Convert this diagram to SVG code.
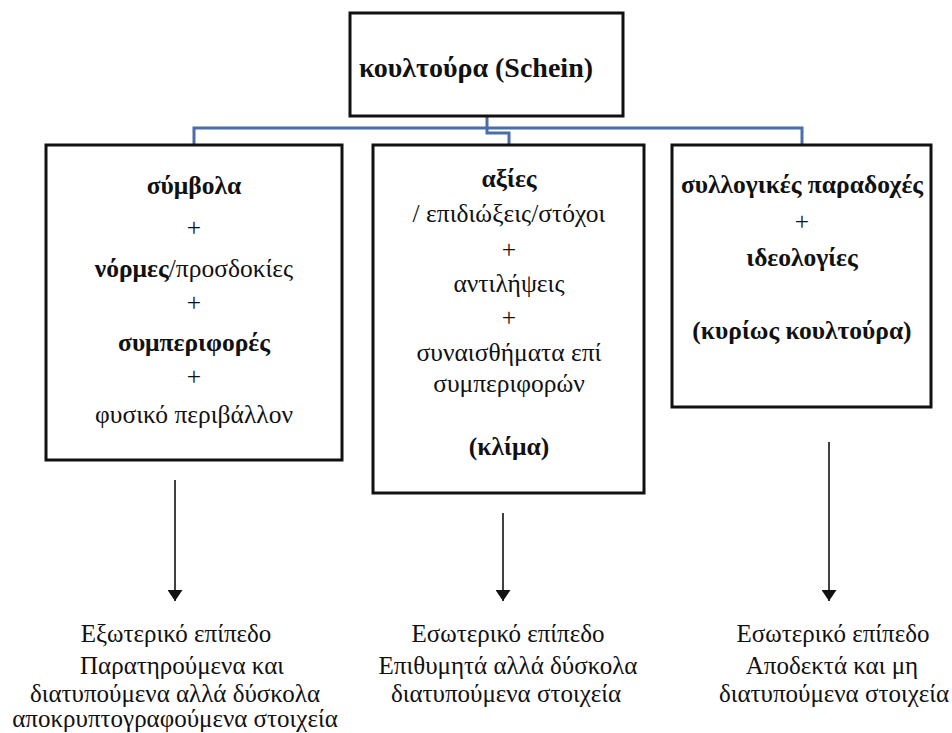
<svg xmlns="http://www.w3.org/2000/svg" width="952" height="733" viewBox="0 0 952 733" font-family="'Liberation Serif', 'Times New Roman', 'DejaVu Serif', serif">
  <style>
    .box { fill: #ffffff; stroke: #111111; stroke-width: 3; }
    .link { fill: none; stroke: #4a6fa8; stroke-width: 3; }
    .arrow { fill: none; stroke: #111111; stroke-width: 1.6; }
    text { font-family: "Liberation Serif", "Times New Roman", "DejaVu Serif", serif; font-size: 25.5px; fill: #111111; text-anchor: middle; }
    .b { font-weight: bold; }
    .title { font-size: 28px; }
    .lvl { font-size: 25px; }
  </style>
  <defs>
    <marker id="head" viewBox="0 0 11 15" refX="11" refY="7.5" markerWidth="11" markerHeight="15" markerUnits="userSpaceOnUse" orient="auto">
      <path d="M0,0 L11,7.5 L0,15 Z" fill="#111111"/>
    </marker>
  </defs>
  <rect width="952" height="733" fill="#ffffff"/>

  <!-- tree connectors -->
  <g id="connectors">
    <path class="link" d="M194,145 V128 H802 V145"/>
    <path class="link" d="M487,116 V133 H509 V145"/>
    <line class="arrow" x1="175" y1="480" x2="175" y2="601" marker-end="url(#head)"/>
    <line class="arrow" x1="503" y1="513" x2="503" y2="601" marker-end="url(#head)"/>
    <line class="arrow" x1="829" y1="442" x2="829" y2="601" marker-end="url(#head)"/>
  </g>

  <g id="root">
    <rect class="box" x="350" y="13" width="273" height="103"/>
    <text class="b title" x="476" y="77">κουλτούρα (Schein)</text>
  </g>

  <g id="external">
    <rect class="box" x="46" y="145" width="296" height="315"/>
    <text class="b" x="194" y="194">σύμβολα</text>
    <text x="194" y="236">+</text>
    <text x="194" y="277"><tspan class="b">νόρμες</tspan>/προσδοκίες</text>
    <text x="194" y="311">+</text>
    <text class="b" x="194" y="351">συμπεριφορές</text>
    <text x="194" y="385">+</text>
    <text x="194" y="423">φυσικό περιβάλλον</text>
  </g>

  <g id="climate">
    <rect class="box" x="373" y="145" width="271" height="348"/>
    <text class="b" x="509" y="187">αξίες</text>
    <text x="509" y="222">/ επιδιώξεις/στόχοι</text>
    <text x="509" y="258">+</text>
    <text x="509" y="292">αντιλήψεις</text>
    <text x="509" y="326">+</text>
    <text x="509" y="361">συναισθήματα επί</text>
    <text x="509" y="392">συμπεριφορών</text>
    <text class="b" x="509" y="455">(κλίμα)</text>
  </g>

  <g id="assumptions">
    <rect class="box" x="672" y="145" width="259" height="262"/>
    <text class="b" x="802" y="193">συλλογικές παραδοχές</text>
    <text x="802" y="230">+</text>
    <text class="b" x="802" y="266">ιδεολογίες</text>
    <text class="b" x="802" y="339">(κυρίως κουλτούρα)</text>
  </g>

  <g id="level-external">
    <text class="lvl" x="176" y="642">Εξωτερικό επίπεδο</text>
    <text class="lvl" x="182" y="674">Παρατηρούμενα και</text>
    <text class="lvl" x="175" y="702">διατυπούμενα αλλά δύσκολα</text>
    <text class="lvl" x="175" y="727">αποκρυπτογραφούμενα στοιχεία</text>
  </g>

  <g id="level-internal-climate">
    <text class="lvl" x="508" y="642">Εσωτερικό επίπεδο</text>
    <text class="lvl" x="508" y="674">Επιθυμητά αλλά δύσκολα</text>
    <text class="lvl" x="506" y="702">διατυπούμενα στοιχεία</text>
  </g>

  <g id="level-internal-culture">
    <text class="lvl" x="833" y="642">Εσωτερικό επίπεδο</text>
    <text class="lvl" x="832" y="674">Αποδεκτά και μη</text>
    <text class="lvl" x="834" y="702">διατυπούμενα στοιχεία</text>
  </g>
</svg>
